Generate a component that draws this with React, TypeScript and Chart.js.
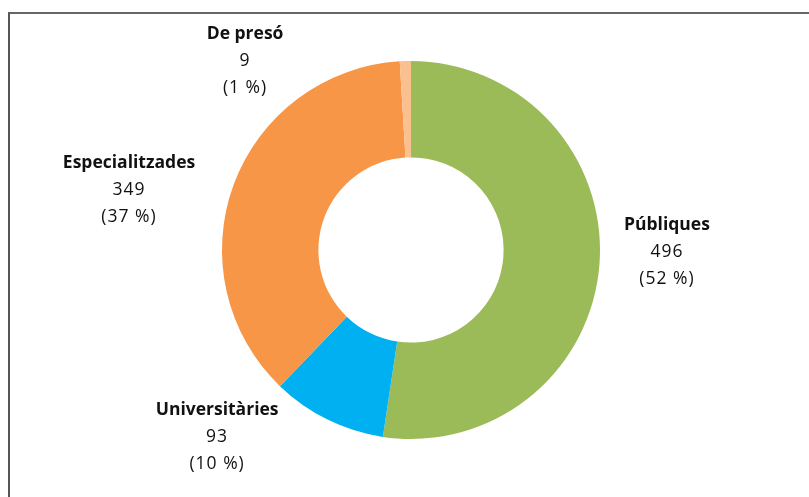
import React, { useEffect, useRef } from "react";
import { Chart, registerables } from "chart.js";

Chart.register(...registerables);

const categories = ["Públiques", "Universitàries", "Especialitzades", "De presó"];
const values = [496, 93, 349, 9];
const colors = ["#9BBB59", "#00B0F0", "#F79646", "#FAC08F"];

// label block centres, relative to doughnut centre, in units of outer radius
const labelOffsets = [
  [1.354, 0.011],
  [-1.026, 0.989],
  [-1.492, -0.317],
  [-0.878, -1.0],
];

const FONT = "'Open Sans', sans-serif";

const labelPlugin = {
  id: "outerLabels",
  afterDraw(chart: any) {
    const ctx = chart.ctx;
    const meta = chart.getDatasetMeta(0);
    const total = values.reduce((a, b) => a + b, 0);
    ctx.save();
    ctx.textAlign = "center";
    ctx.textBaseline = "middle";
    ctx.fillStyle = "#111";
    meta.data.forEach((arc: any, i: number) => {
      const r = arc.outerRadius;
      const cx = arc.x + labelOffsets[i][0] * r;
      const cy = arc.y + labelOffsets[i][1] * r;
      const lh = 27;
      ctx.letterSpacing = "0px";
      ctx.font = `bold 17.5px ${FONT}`;
      ctx.fillText(categories[i], cx, cy - lh);
      ctx.font = `17.5px ${FONT}`;
      ctx.letterSpacing = "1px";
      ctx.fillText(String(values[i]), cx, cy);
      ctx.fillText(`(${Math.round((values[i] / total) * 100)} %)`, cx, cy + lh);
    });
    ctx.restore();
  },
};

export default function App() {
  const ref = useRef<HTMLCanvasElement>(null);
  useEffect(() => {
    const chart = new Chart(ref.current!, {
      type: "doughnut",
      data: {
        labels: categories,
        datasets: [
          {
            data: values,
            backgroundColor: colors,
            borderWidth: 0,
          },
        ],
      },
      options: {
        animation: false,
        responsive: false,
        maintainAspectRatio: false,
        cutout: "49%",
        layout: { padding: { left: 222, right: 209, top: 61, bottom: 58 } },
        plugins: {
          legend: { display: false },
          tooltip: { enabled: false },
          title: { display: false },
        },
      },
      plugins: [labelPlugin],
    });
    return () => chart.destroy();
  }, []);
  return (
    <div style={{ position: "fixed", left: 0, top: 0, width: 809, height: 497, background: "#fff", overflow: "hidden" }}>
      <div
        style={{
          position: "absolute",
          left: 8,
          top: 12,
          width: 900,
          height: 600,
          borderTop: "2px solid #666",
          borderLeft: "2px solid #555",
        }}
      />
      <canvas ref={ref} width={809} height={497} style={{ position: "absolute", left: 0, top: 0 }} />
    </div>
  );
}
